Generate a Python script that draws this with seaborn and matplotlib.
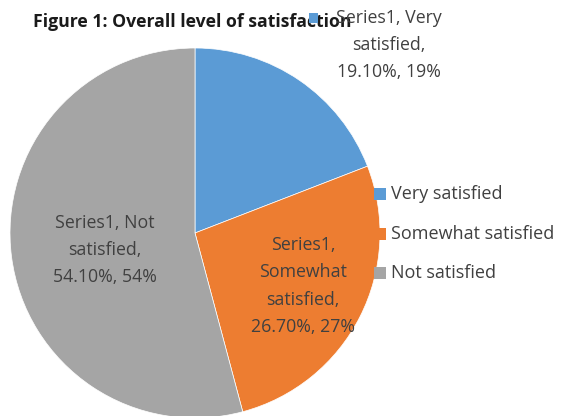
import matplotlib
matplotlib.use("Agg")
import matplotlib.pyplot as plt
import seaborn as sns

categories = ["Very satisfied", "Somewhat satisfied", "Not satisfied"]
shares = [19.1, 26.7, 54.1]
series_name = "Series1"
title = "Figure 1: Overall level of satisfaction"

sns.set_theme(style="white")
plt.rcParams["font.family"] = ["Open Sans", "DejaVu Sans"]
colors = sns.color_palette(["#5B9BD5", "#ED7D31", "#A5A5A5"])

W, H = 566, 416
fig = plt.figure(figsize=(W / 100, H / 100), dpi=100)
ax = fig.add_axes([0, 0, 1, 1])


def py(y):
    # convert a top-down pixel row to axes data y
    return H - y


ax.pie(shares, colors=colors, startangle=90, counterclock=False,
       center=(195, py(233)), radius=185, frame=True,
       wedgeprops=dict(linewidth=0.5, edgecolor="white"))
ax.set_xlim(0, W)
ax.set_ylim(0, H)
ax.set_aspect("equal")
ax.axis("off")

ax.text(33, py(27), title, fontsize=12.7, fontweight="bold", color="#1a1a1a",
        ha="left", va="baseline", zorder=3)


def label_text(name, value, breaks):
    words = f"{series_name}, {name},".split(" ")
    lines, cur = [], []
    for i, w in enumerate(words):
        cur.append(w)
        if i in breaks:
            lines.append(" ".join(cur))
            cur = []
    if cur:
        lines.append(" ".join(cur))
    lines.append(f"{value:.2f}%, {round(value)}%")
    return "\n".join(lines)


label_specs = [
    (389, 45, {1}),
    (303, 286, {0, 1}),
    (105, 250, {1}),
]
for (x, y, breaks), name, v in zip(label_specs, categories, shares):
    ax.text(x, py(y), label_text(name, v, breaks),
            fontsize=12.8, color="#404040", ha="center", va="center",
            linespacing=1.65, zorder=4)

# legend key drawn inside the first data label
ax.add_patch(plt.Rectangle((309, py(23)), 9, 10, color=colors[0], lw=0,
                           zorder=5))

# legend
for i, (name, c) in enumerate(zip(categories, colors)):
    yc = [194, 234, 273][i]
    ax.add_patch(plt.Rectangle((374, py(yc + 6)), 12, 12, color=c, lw=0,
                               zorder=3))
    ax.text(391, py(yc), name, fontsize=13, color="#404040",
            ha="left", va="center", zorder=4)

fig.savefig("out.png", dpi=100)
